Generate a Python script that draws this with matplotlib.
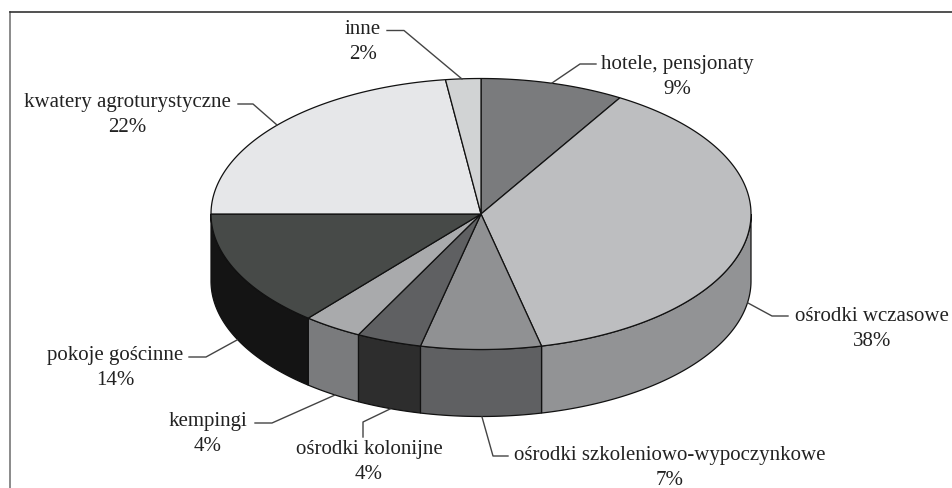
import numpy as np
from matplotlib import pyplot as plt
from matplotlib.patches import Polygon

plt.rcParams['font.family'] = ['Liberation Serif', 'DejaVu Sans']

# shares read from the slice boundaries, printed labels kept separately
categories = ['hotele, pensjonaty', 'ośrodki wczasowe', 'ośrodki szkoleniowo-wypoczynkowe',
              'ośrodki kolonijne', 'kempingi', 'pokoje gościnne',
              'kwatery agroturystyczne', 'inne']
shares = [8.6, 37.8, 7.2, 3.9, 3.55, 13.95, 22.9, 2.1]
printed = [9, 38, 7, 4, 4, 14, 22, 2]
top_colors = ['#7a7b7d', '#bdbec0', '#909193', '#5f6062', '#a9aaac', '#474a48', '#e6e7e9', '#d1d3d4']
side_colors = ['#5f6062', '#929395', '#5f6062', '#2d2d2d', '#7a7b7d', '#141414', '#a9aaac', '#a9aaac']

# label centre, then the leader line from label to pie
label_pos = [(677, 77), (872, 329), (670, 468), (369, 462), (208, 434), (115, 368), (127, 115), (363, 42)]
leaders = [
    [(596, 64), (580, 64), (552, 83)],
    [(788, 316), (772, 316), (748, 303)],
    [(508, 456), (493, 456), (482, 417)],
    [(363, 437), (363, 422), (390, 409)],
    [(255, 423), (272, 423), (335, 395)],
    [(189, 357), (206, 357), (237, 340)],
    [(238, 104), (253, 104), (277, 125)],
    [(387, 30.5), (404, 30.5), (462, 79)],
]

cx, cy, rx, ry, depth = 481, 214, 270, 135.5, 67


def rim(a, b):
    t = np.radians(np.linspace(a, b, max(int(abs(b - a)) * 2, 2)))
    return np.column_stack([cx + rx * np.sin(t), cy - ry * np.cos(t)])


fig = plt.figure(figsize=(9.53, 4.88), dpi=100)
ax = fig.add_axes([0, 0, 1, 1])
ax.set_xlim(0, 953)
ax.set_ylim(488, 0)
ax.axis('off')

# frame is open on the right and at the bottom
ax.plot([10, 10], [488, 12], color='#777777', lw=1.2)
ax.plot([10, 953], [12, 12], color='#333333', lw=1.2)

edges = np.cumsum([0] + shares) / sum(shares) * 360

# wall of the pie, only the front half can be seen
for i in range(len(shares)):
    a, b = max(edges[i], 90), min(edges[i + 1], 270)
    if a < b:
        arc = rim(a, b)
        wall = np.vstack([arc, arc[::-1] + [0, depth]])
        ax.add_patch(Polygon(wall, closed=True, fc=side_colors[i], ec='#111111', lw=0.9, zorder=2))

for i in range(len(shares)):
    top = np.vstack([[cx, cy], rim(edges[i], edges[i + 1])])
    ax.add_patch(Polygon(top, closed=True, fc=top_colors[i], ec='#111111', lw=0.9, zorder=3))

for i, name in enumerate(categories):
    x, y = label_pos[i]
    ax.text(x, y, f'{name}\n{printed[i]}%', ha='center', va='center', fontsize=15,
            color='#222222', linespacing=1.36, zorder=5)
    xs, ys = zip(*leaders[i])
    ax.plot(xs, ys, color='#444444', lw=1, zorder=4)

fig.savefig('out.png', dpi=100)
